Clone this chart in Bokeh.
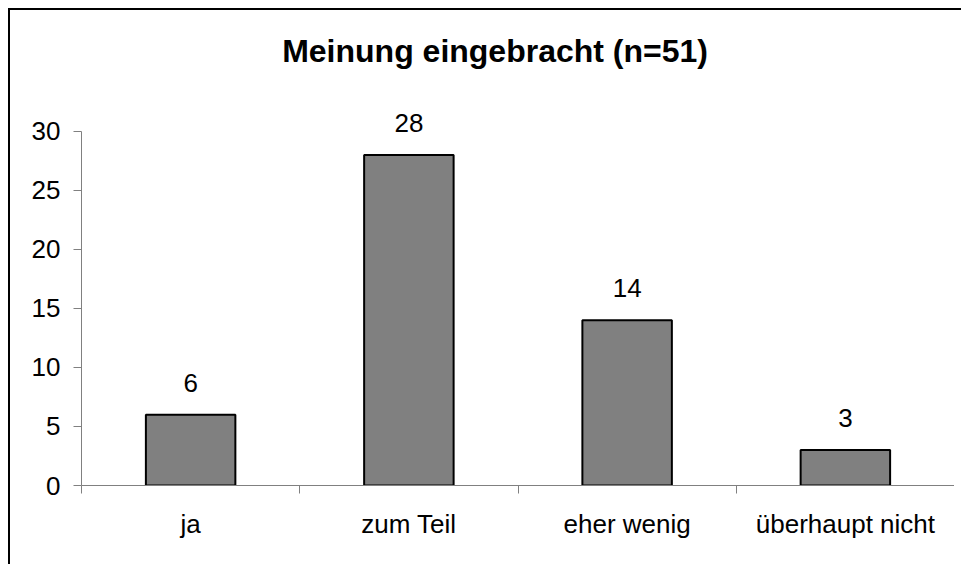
from bokeh.plotting import figure
from bokeh.models import Range1d, FixedTicker, LinearAxis, Label, ColumnDataSource, Spacer
from bokeh.layouts import column, row
from bokeh.core.properties import value
from bokeh.embed import file_html
from bokeh.resources import INLINE

categories = ["ja", "zum Teil", "eher wenig", "überhaupt nicht"]
counts = [6, 28, 14, 3]
y_ticks = [0, 5, 10, 15, 20, 25, 30]
title_text = "Meinung eingebracht (n=51)"

FONT = "Liberation Sans"
n = len(categories)
centers = [i + 0.5 for i in range(n)]
boundaries = list(range(n + 1))

FIG_W, FIG_H = 944, 554

fig = figure(width=FIG_W, height=FIG_H, output_backend="svg", toolbar_location=None,
             title=None,
             x_range=Range1d(0, n), y_range=Range1d(0, 40.25),
             min_border_left=71, min_border_right=0, min_border_top=0, min_border_bottom=79,
             x_axis_type=None, y_axis_type=None)
fig.outline_line_color = None
fig.background_fill_color = "white"
fig.border_fill_color = "white"

source = ColumnDataSource(dict(x=centers, top=counts, label=[str(c) for c in counts]))
fig.vbar(x="x", top="top", bottom=0, width=0.41, source=source,
         fill_color="#808080", line_color="black", line_width=2)
fig.text(x="x", y="top", text="label", source=source, y_offset=-32,
         text_align="center", text_baseline="alphabetic",
         text_font=value(FONT), text_font_size="26px", text_color="black")

yaxis = LinearAxis(ticker=FixedTicker(ticks=y_ticks), bounds=(0, 30))
yaxis.axis_line_color = "#808080"
yaxis.major_tick_line_color = "#808080"
yaxis.major_tick_in = 0
yaxis.major_tick_out = 8
yaxis.minor_tick_line_color = None
yaxis.major_label_text_font = FONT
yaxis.major_label_text_font_size = "26px"
yaxis.major_label_text_color = "black"
yaxis.major_label_standoff = 13
fig.add_layout(yaxis, "left")

xaxis = LinearAxis(ticker=FixedTicker(ticks=centers, minor_ticks=boundaries),
                   major_label_overrides={c: cat for c, cat in zip(centers, categories)})
xaxis.axis_line_color = "#808080"
xaxis.major_tick_line_color = None
xaxis.minor_tick_line_color = "#808080"
xaxis.minor_tick_in = 0
xaxis.minor_tick_out = 8
xaxis.major_label_text_font = FONT
xaxis.major_label_text_font_size = "26px"
xaxis.major_label_text_color = "black"
xaxis.major_label_standoff = 15
fig.add_layout(xaxis, "below")

title = Label(x=1.895, y=36.8, text=title_text,
              text_align="center", text_baseline="alphabetic",
              text_font=FONT, text_font_size="32px", text_font_style="bold",
              text_color="black")
fig.add_layout(title)

# chart-area border: black strips on the left and top (as in the reference)
top_strip = Spacer(width=953, height=2, styles={"background-color": "black"})
left_strip = Spacer(width=2, height=FIG_H, styles={"background-color": "black"})

p = column(Spacer(width=8, height=8),
           row(Spacer(width=8, height=8),
               column(top_strip, row(left_strip, fig))))

open("out.html", "w").write(file_html(p, INLINE))
